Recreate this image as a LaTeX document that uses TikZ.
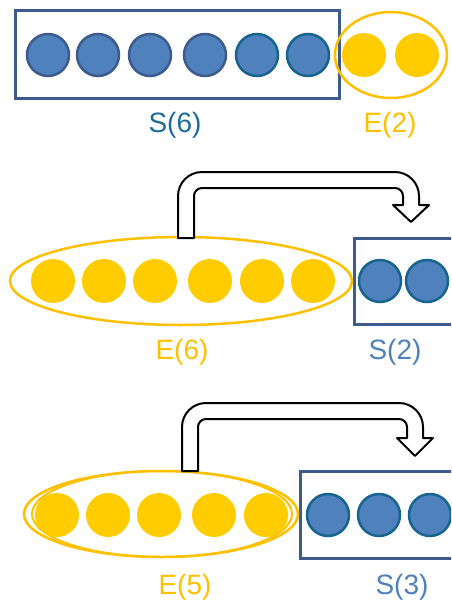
\documentclass[tikz,border=0pt]{standalone}
\usepackage{fontspec}
\setmainfont{Liberation Sans}
\definecolor{bfill}{HTML}{4F81BD}
\definecolor{bdark}{HTML}{3D5B8C}
\definecolor{bteal}{HTML}{17648F}
\definecolor{yfill}{HTML}{FFCC00}
\definecolor{yline}{HTML}{FFC000}
\definecolor{sdark}{HTML}{1F6B9B}
\begin{document}
\begin{tikzpicture}[x=1pt,y=-1pt,
  bball/.style={circle,fill=bfill,draw=bteal,line width=2.5pt,minimum size=42pt,inner sep=0pt},
  gball/.style={bball,draw=bdark},
  yball/.style={circle,fill=yfill,minimum size=44pt,inner sep=0pt},
  setbox/.style={draw=bdark,line width=3pt},
  setell/.style={draw=yline,line width=2.5pt},
  uarrow/.style={draw=black,fill=white,line width=2pt,line join=round},
  lab/.style={font=\fontsize{28}{32}\selectfont,inner sep=0pt}]
\useasboundingbox (0,0) rectangle (451,600);
\clip (0,0) rectangle (451,600);
% ---------- row 1 ----------
\draw[setbox] (15,10) rectangle (339,98);
\foreach \x [count=\i] in {48,98,150,205} \node[gball] (a\i) at (\x,55) {};
\node[bball] (a5) at (257,55) {};
\node[bball] (a6) at (308,55) {};
\draw[setell] (391,55) ellipse [x radius=56, y radius=43];
\node[yball] (b1) at (364,55) {};
\node[yball] (b2) at (417,55) {};
\node[lab,text=sdark] (s6) at (175,125) {S(6)};
\node[lab,text=yline] (e2) at (390,125) {E(2)};
% ---------- row 2 ----------
\draw[setbox] (354,238) rectangle (470,324);
\draw[setell] (181,281) ellipse [x radius=171, y radius=44];
\foreach \x [count=\i] in {53,104,155,210,262,313} \node[yball] (c\i) at (\x,281) {};
\node[bball] (d1) at (380,281) {};
\node[bball] (d2) at (427,281) {};
\node[lab,text=yline] (e6) at (182,352) {E(6)};
\node[lab,text=bfill] (s2) at (395,352) {S(2)};
\draw[uarrow] (178,238) [rounded corners=24pt] -- (178,172) -- (419,172)
  [sharp corners] -- (419,205) -- (429,205) -- (411,222) -- (393,205) -- (403,205)
  [rounded corners=8pt] -- (403,188) -- (194,188)
  [sharp corners] -- (194,238) -- cycle;
% ---------- row 3 ----------
\draw[setbox] (300,471) rectangle (470,558);
\draw[setell] (161,514) ellipse [x radius=137, y radius=43];
\draw[setell,line width=2pt] (162,514) ellipse [x radius=130, y radius=43];
\foreach \x [count=\i] in {57,108,159,214,266} \node[yball] (f\i) at (\x,515) {};
\foreach \x [count=\i] in {328,379,430} \node[bball] (g\i) at (\x,515) {};
\node[lab,text=yline] (e5) at (185,587) {E(5)};
\node[lab,text=bfill] (s3) at (402,587) {S(3)};
\draw[uarrow] (182,471) [rounded corners=24pt] -- (182,403) -- (423,403)
  [sharp corners] -- (423,438) -- (433,438) -- (415,456) -- (397,438) -- (407,438)
  [rounded corners=8pt] -- (407,419) -- (198,419)
  [sharp corners] -- (198,471) -- cycle;
\end{tikzpicture}
\end{document}
